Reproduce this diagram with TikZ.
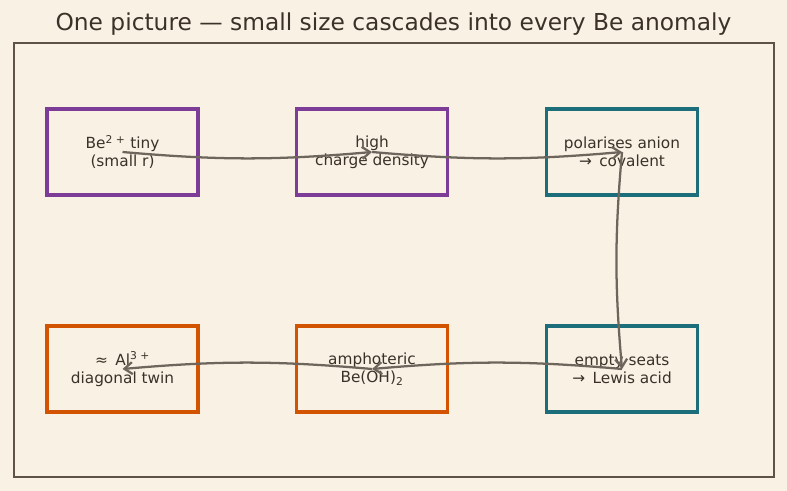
\documentclass[tikz,border=0pt]{standalone}
\usepackage{fontspec}
\setmainfont{DejaVu Sans}
\usepackage{tikz}
\usetikzlibrary{arrows,arrows.meta,shapes,positioning}
\definecolor{paper}{HTML}{F9F2E4}
\definecolor{ink}{HTML}{3B3129}
\definecolor{framec}{HTML}{5E5344}
\definecolor{linkc}{HTML}{6E665C}
\definecolor{sizec}{HTML}{7D3C98}
\definecolor{bondc}{HTML}{1B6E7A}
\definecolor{acidc}{HTML}{D35400}

\begin{document}
\begin{tikzpicture}[x=0.75pt,y=-0.75pt]
                    \tikzstyle{every node}+=[text=ink,font=\fontsize{11.5}{13.5}\selectfont,align=center]
                    \tikzstyle{stage}=[draw,line width=2.3pt,minimum width=113.25pt,minimum height=64.5pt,inner sep=0pt]
                    \tikzstyle{link}=[draw=linkc,line width=1.7pt,-{Straight Barb[length=6pt,width=9pt]},bend right=5]
                    \fill [paper] (0,0) rectangle (787,491);
                    \useasboundingbox (0,0) rectangle (787,491);
                    \draw [framec,line width=1.1pt] (14,43) rectangle (774,477);
                    \node (title) at (393.5,24) {\fontsize{17.5}{20}\selectfont One picture — small size cascades into every Be anomaly};
                    % top row
                    \node [stage,draw=sizec] (tiny) at (122.5,152) {Be\textsuperscript{2 +} tiny\\(small r)};
                    \node [stage,draw=sizec] (dense) at (372,152) {high\\charge density};
                    \node [stage,draw=bondc] (polar) at (622,152) {polarises anion\\→\, covalent};
                    % bottom row
                    \node [stage,draw=bondc] (lewis) at (622,369) {empty seats\\→\, Lewis acid};
                    \node [stage,draw=acidc] (amph) at (372,369) {amphoteric\\Be(OH)\textsubscript{2}};
                    \node [stage,draw=acidc] (twin) at (122.5,369) {≈\, Al\textsuperscript{3 +}\\diagonal twin};
                    \draw [link] (tiny.center) to (dense.center);
                    \draw [link] (dense.center) to (polar.center);
                    \draw [link] (polar.center) to (lewis.center);
                    \draw [link] (lewis.center) to (amph.center);
                    \draw [link] (amph.center) to (twin.center);
                \end{tikzpicture}
\end{document}
